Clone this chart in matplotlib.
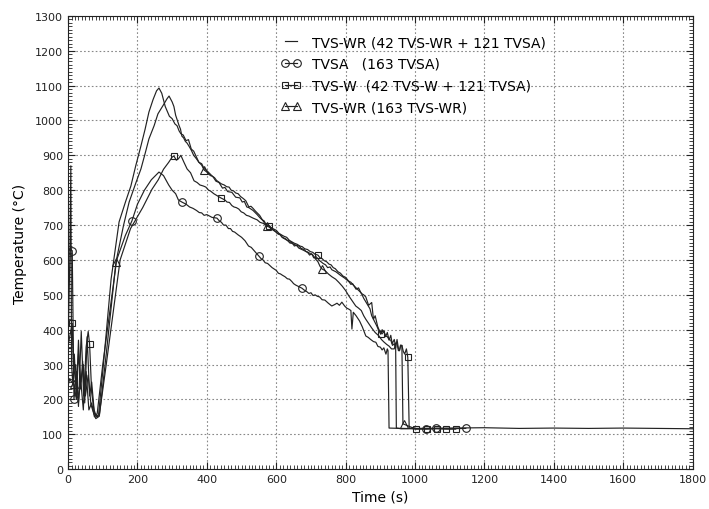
import matplotlib
matplotlib.use("Agg")
import matplotlib.pyplot as plt
from matplotlib.ticker import MultipleLocator

# ---------------- data ----------------
labels = ["TVS-WR (42 TVS-WR + 121 TVSA)",
          "TVSA   (163 TVSA)",
          "TVS-W  (42 TVS-W + 121 TVSA)",
          "TVS-WR (163 TVS-WR)"]

# (time s, temperature C) points of each series
pts_wr42 = [(0,350),(5,600),(8,870),(10,300),(14,240),(18,330),(24,210),(30,370),(36,230),
    (42,310),(48,190),(55,380),(62,210),(68,250),(75,170),(82,150),(88,158),(100,280),
    (124,545),(147,709),(165,765),(181,812),(195,870),(210,927),(222,975),(233,1024),
    (245,1060),(255,1085),(262,1093),(270,1078),(280,1040),(292,1012),(300,1005),(308,990),
    (314,985),(320,970),(325,962),(332,958),(340,942),(347,945),(355,918),(362,912),
    (370,895),(377,880),(385,876),(392,862),(400,856),(410,846),(418,838),(426,826),
    (435,822),(445,806),(452,808),(460,796),(472,794),(483,780),(495,778),(502,766),
    (508,768),(515,752),(521,750),(533,742),(545,730),(552,722),(558,716),(565,712),
    (570,703),(580,698),(590,686),(597,682),(603,676),(610,674),(616,666),(628,660),
    (640,648),(646,650),(652,640),(658,642),(665,634),(678,628),(690,622),(696,614),
    (702,618),(708,606),(714,610),(725,598),(735,590),(742,586),(748,578),(755,580),
    (760,572),(772,566),(785,556),(797,548),(809,538),(815,530),(820,532),(830,516),
    (837,520),(845,504),(852,500),(858,494),(866,470),(875,478),(880,430),(885,440),
    (892,410),(896,400),(905,388),(910,396),(915,380),(920,392),(925,370),(930,384),
    (934,360),(940,372),(944,352),(946,118),(960,116),(1000,117),(1100,118),(1200,119),
    (1300,117),(1400,118),(1500,117),(1600,118),(1700,117),(1800,116)]

pts_tvsa = [(0,630),(8,632),(12,625),(17,200),(24,280),(30,180),(38,395),(45,210),(52,280),
    (60,170),(68,190),(76,150),(84,160),(100,300),(140,600),(165,670),(184,712),(200,760),
    (220,800),(240,830),(262,852),(275,842),(290,815),(300,800),(310,790),(318,772),
    (328,766),(340,760),(350,752),(360,748),(370,742),(378,736),(385,735),(392,728),
    (400,730),(415,722),(429,720),(436,712),(442,708),(448,700),(455,700),(462,690),
    (468,690),(474,682),(480,680),(490,672),(500,665),(510,655),(520,640),(528,636),
    (535,628),(542,620),(550,611),(556,604),(562,600),(568,592),(575,590),(588,578),
    (600,570),(606,562),(612,560),(618,556),(625,552),(632,546),(638,545),(645,538),
    (650,532),(656,528),(662,525),(674,519),(680,514),(687,510),(694,504),(700,506),
    (706,498),(712,500),(718,496),(725,494),(732,486),(740,485),(750,476),(760,468),
    (768,472),(775,476),(782,470),(789,479),(797,468),(803,462),(809,459),(815,455),
    (818,402),(822,450),(830,440),(840,425),(848,408),(858,382),(865,378),(872,372),
    (880,366),(887,364),(893,352),(900,350),(905,342),(910,348),(916,330),(920,345),
    (922,340),(925,118),(960,117),(1000,116),(1031,116),(1060,117),(1100,116),(1146,117)]

pts_tvsw = [(0,355),(12,418),(16,260),(22,300),(30,190),(36,260),(44,170),(52,350),(58,395),
    (62,360),(68,220),(76,160),(84,150),(90,155),(110,300),(150,600),(180,690),(215,750),
    (242,803),(260,830),(275,860),(290,880),(300,895),(305,898),(312,886),(318,890),
    (325,900),(334,880),(343,861),(353,850),(363,827),(372,822),(380,815),(390,812),
    (397,809),(405,800),(410,798),(420,790),(430,784),(440,778),(452,772),(458,766),
    (465,765),(472,756),(478,752),(485,750),(492,746),(499,738),(506,735),(514,728),
    (521,726),(533,720),(545,715),(553,708),(562,705),(570,700),(579,697),(590,690),
    (600,685),(608,676),(615,672),(622,668),(630,665),(638,656),(645,652),(652,648),
    (660,645),(668,640),(675,638),(682,632),(690,630),(698,624),(705,622),(712,616),
    (720,614),(726,606),(732,604),(738,598),(745,595),(752,588),(758,586),(764,578),
    (770,575),(778,566),(785,562),(792,554),(800,550),(808,540),(815,536),(822,528),
    (830,520),(838,512),(845,505),(852,490),(858,480),(864,470),(870,460),(875,440),
    (880,430),(885,420),(890,410),(895,398),(901,387),(905,400),(910,395),(915,382),
    (920,380),(925,372),(930,370),(935,355),(940,360),(944,348),(948,372),(952,346),
    (955,340),(958,352),(962,355),(966,338),(970,330),(975,345),(979,321),(983,118),
    (1002,115),(1034,115),(1063,116),(1089,115),(1117,115)]

pts_wr163 = [(0,240),(5,260),(10,250),(17,244),(24,200),(30,330),(37,250),(44,300),(50,210),
    (58,270),(66,185),(74,160),(80,145),(90,152),(110,330),(138,594),(160,700),(176,766),
    (195,820),(210,861),(222,905),(233,947),(248,985),(259,1019),(275,1045),(285,1062),
    (291,1070),(300,1053),(305,1040),(310,1015),(315,1000),(320,985),(324,975),(328,955),
    (333,950),(338,940),(343,935),(348,927),(355,915),(362,900),(370,890),(377,880),
    (385,872),(392,858),(400,852),(410,842),(416,840),(422,836),(428,828),(435,823),
    (442,818),(450,815),(457,810),(464,809),(470,800),(477,798),(483,792),(490,790),
    (497,782),(505,776),(512,770),(521,752),(527,754),(533,748),(540,740),(545,735),
    (552,728),(560,715),(566,706),(573,697),(580,694),(588,690),(594,684),(600,680),
    (606,674),(612,672),(618,664),(625,660),(632,656),(638,655),(644,648),(650,645),
    (658,642),(665,640),(672,633),(680,630),(686,624),(692,622),(698,618),(705,615),
    (712,604),(720,595),(726,582),(732,574),(740,570),(750,560),(760,552),(771,545),
    (780,536),(790,525),(800,512),(809,497),(818,484),(829,468),(837,462),(845,455),
    (852,440),(858,430),(866,418),(875,405),(885,392),(896,382),(903,372),(910,365),
    (918,358),(925,353),(932,345),(940,345),(944,362),(948,360),(952,340),(955,340),
    (958,356),(962,355),(965,130),(968,129),(990,120),(1000,118)]

# times at which each series carries a marker
mk_tvsa = [12, 17, 184, 328, 429, 550, 674, 1031, 1060, 1146]
mk_tvsw = [0, 12, 62, 305, 440, 579, 720, 901, 979, 1002, 1034, 1063, 1089, 1117]
mk_wr163 = [17, 138, 392, 573, 732, 968]

# ---------------- plot ----------------
plt.rcParams['font.family'] = ['DejaVu Sans']
fig = plt.figure(figsize=(7.09, 5.10), dpi=100)
ax = fig.add_axes([0.096, 0.078, 0.881, 0.889])

lc = '#222222'
lw = 0.85

def split(pts):
    return [p[0] for p in pts], [p[1] for p in pts]

t, T = split(pts_wr42)
ax.plot(t, T, color=lc, lw=lw, label=labels[0])

t, T = split(pts_tvsa)
ax.plot(t, T, color=lc, lw=lw, marker='o', ms=5.5, mfc='none', mew=0.8,
        markevery=[t.index(v) for v in mk_tvsa], label=labels[1])

t, T = split(pts_tvsw)
ax.plot(t, T, color=lc, lw=lw, marker='s', ms=5, mfc='none', mew=0.8,
        markevery=[t.index(v) for v in mk_tvsw], label=labels[2])

t, T = split(pts_wr163)
ax.plot(t, T, color=lc, lw=lw, marker='^', ms=5.5, mfc='none', mew=0.8,
        markevery=[t.index(v) for v in mk_wr163], label=labels[3])

ax.set_xlim(0, 1800)
ax.set_ylim(0, 1300)
ax.xaxis.set_major_locator(MultipleLocator(200))
ax.xaxis.set_minor_locator(MultipleLocator(10))
ax.yaxis.set_major_locator(MultipleLocator(100))
ax.yaxis.set_minor_locator(MultipleLocator(10))
ax.tick_params(which='both', direction='in', top=True, right=True, labelsize=8,
               colors='#222222')
ax.tick_params(which='major', length=5, width=0.8)
ax.tick_params(which='minor', length=3, width=0.6)
ax.grid(True, which='major', linestyle=(0, (1.5, 2)), color='#888888', lw=0.8)
for s in ax.spines.values():
    s.set_linewidth(0.8)
    s.set_color('#222222')

ax.set_xlabel('Time (s)', fontsize=10, labelpad=4)
ax.set_ylabel('Temperature (°C)', fontsize=10, labelpad=6)

ax.legend(loc='upper left', bbox_to_anchor=(0.32, 0.985), frameon=False,
          fontsize=10, handlelength=1.5, handletextpad=0.8, labelspacing=0.55,
          numpoints=2)

fig.savefig('out.png', dpi=100)
